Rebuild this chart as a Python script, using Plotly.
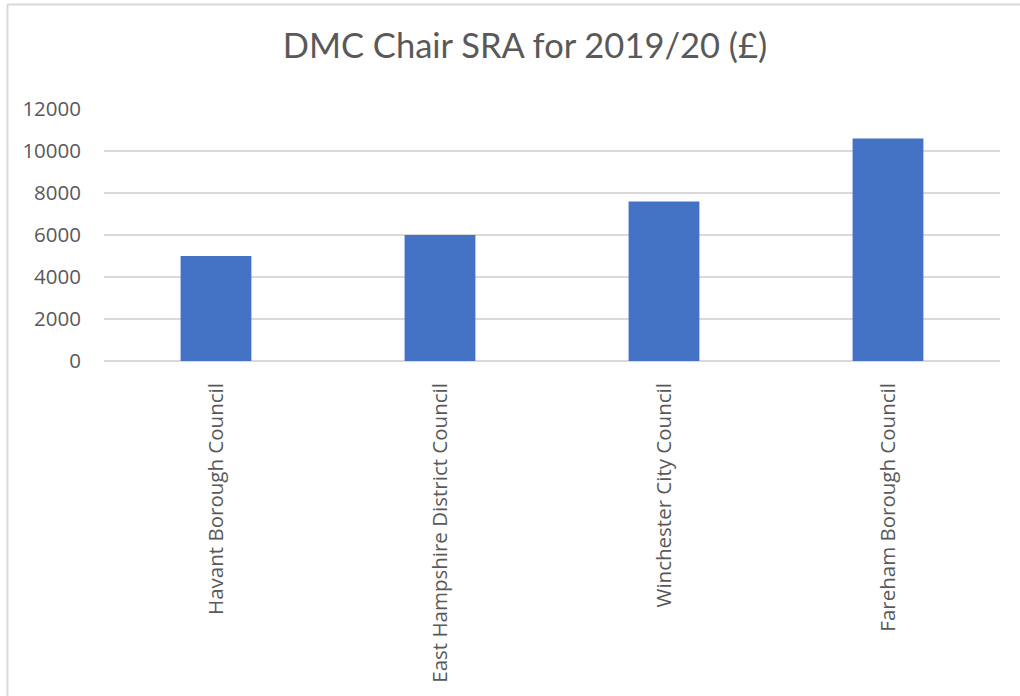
import plotly.graph_objects as go

categories = ["Havant Borough Council", "East Hampshire District Council",
              "Winchester City Council", "Fareham Borough Council"]
values = [5000, 6000, 7600, 10600]
y_ticks = [0, 2000, 4000, 6000, 8000, 10000, 12000]

W, H = 1020, 696
L, R, T, B = 104, 20, 109, 335
pw, ph = W - L - R, H - T - B

def px_x(p):
    return (p - L) / pw

def px_y(p):
    return (H - B - p) / ph

fig = go.Figure(go.Bar(
    x=categories, y=values,
    marker=dict(color="#4472C4", line=dict(width=0)),
    width=0.316,
    hoverinfo="skip",
))

font_family = "Open Sans, DejaVu Sans, sans-serif"

fig.update_layout(
    width=W, height=H,
    margin=dict(l=L, r=R, t=T, b=B),
    paper_bgcolor="white", plot_bgcolor="white",
    showlegend=False,
    title=dict(text="DMC Chair SRA for 2019/20 (£)", x=525 / W, xref="container",
               xanchor="center", y=1 - 46 / H, yref="container", yanchor="middle",
               font=dict(family="Lato, Open Sans, sans-serif", size=34.5, color="#595959")),
    font=dict(family=font_family, color="#595959"),
    xaxis=dict(showgrid=False, showline=False, ticks="", tickangle=-90,
               tickfont=dict(size=20.5, color="#595959"), ticklabelstandoff=17),
    yaxis=dict(range=[0, 12000], tickvals=y_ticks, ticktext=[str(v) for v in y_ticks],
               showgrid=True, gridcolor="#d9d9d9", gridwidth=1.5,
               zeroline=True, zerolinecolor="#d9d9d9", zerolinewidth=1.5,
               showline=False, ticks="", tickfont=dict(size=20.5, color="#595959"),
               ticklabelstandoff=22),
    bargap=0.684,
)

fig.add_shape(type="line", xref="paper", yref="paper",
              x0=px_x(7), x1=px_x(W + 5), y0=px_y(4.5), y1=px_y(4.5),
              line=dict(color="#d9d9d9", width=2))
fig.add_shape(type="line", xref="paper", yref="paper",
              x0=px_x(7.5), x1=px_x(7.5), y0=px_y(4.5), y1=px_y(H + 5),
              line=dict(color="#d9d9d9", width=2))

fig.write_html("out.html",
               config={"displayModeBar": False},
               post_script="document.body.style.margin='0';document.body.style.overflow='hidden';")
